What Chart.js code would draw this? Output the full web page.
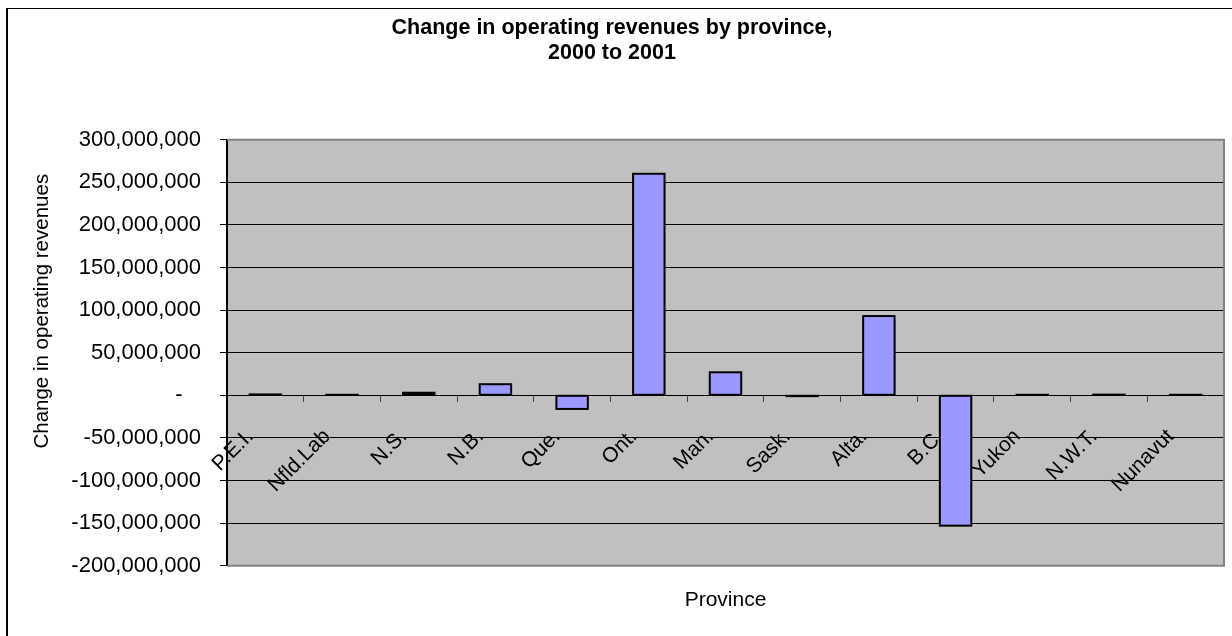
<!DOCTYPE html>
<html>
<head>
<meta charset="utf-8">
<title>Change in operating revenues by province, 2000 to 2001</title>
<script src="https://cdn.jsdelivr.net/npm/chart.js@4"></script>
<style>
  html, body { margin: 0; padding: 0; background: #fff; overflow: hidden; }
  #wrap { position: relative; width: 1232px; height: 636px; overflow: hidden; }
  #frame { position: absolute; left: 6px; top: 8px; width: 1240px; height: 640px;
           border-left: 2px solid #000; border-top: 1px solid #000; }
  canvas { position: absolute; left: 0; top: 0; }
</style>
</head>
<body>
<div id="wrap">
  <div id="frame"></div>
  <canvas id="chart" width="1232" height="636"></canvas>
</div>
<script>
/* ─── Data ────────────────────────────────────────────── */
const provinces = ['P.E.I.', 'Nfld.Lab', 'N.S.', 'N.B.', 'Que.', 'Ont.', 'Man.',
                   'Sask.', 'Alta.', 'B.C.', 'Yukon', 'N.W.T.', 'Nunavut'];
const revenueChange = [1000000, 500000, 3000000, 13000000, -16000000, 260000000, 27000000,
                       -1000000, 93000000, -153000000, 500000, 800000, 500000];
const yMin = -200000000;
const yMax = 300000000;
const yStep = 50000000;

const FONT = "'Liberation Sans', Arial, sans-serif";
const PLOT_BG = '#C0C0C0';
const BAR_FILL = '#9999FF';

/* ─── Plot area: grey fill + frame ────────────────────── */
const plotArea = {
  id: 'plotArea',
  beforeDraw(chart) {
    const { ctx, chartArea: a } = chart;
    ctx.save();
    ctx.fillStyle = PLOT_BG;
    ctx.fillRect(a.left, a.top, a.right - a.left, a.bottom - a.top);
    ctx.restore();
  },
  beforeDatasetsDraw(chart) {
    const { ctx, chartArea: a } = chart;
    ctx.save();
    ctx.strokeStyle = '#808080';
    ctx.lineWidth = 2;
    ctx.beginPath();
    ctx.moveTo(a.left, a.top);
    ctx.lineTo(a.right, a.top);
    ctx.lineTo(a.right, a.bottom);
    ctx.lineTo(a.left, a.bottom);
    ctx.stroke();
    ctx.restore();
  }
};

/* ─── Bar outlines (centred on the bar edge, like Excel) ── */
const barOutline = {
  id: 'barOutline',
  afterDatasetsDraw(chart) {
    const ctx = chart.ctx;
    ctx.save();
    ctx.strokeStyle = '#000';
    ctx.lineWidth = 2;
    chart.getDatasetMeta(0).data.forEach(bar => {
      const { x, y, base, width } = bar.getProps(['x', 'y', 'base', 'width'], true);
      ctx.strokeRect(x - width / 2, Math.min(y, base), width, Math.abs(base - y));
    });
    ctx.restore();
  }
};

/* ─── Chart ───────────────────────────────────────────── */
new Chart(document.getElementById('chart'), {
  type: 'bar',
  data: {
    labels: provinces,
    datasets: [{
      data: revenueChange,
      backgroundColor: BAR_FILL,
      borderWidth: 0,
      barPercentage: 0.41,
      categoryPercentage: 1,
      xAxisID: 'x',
      yAxisID: 'y'
    }]
  },
  options: {
    responsive: false,
    animation: false,
    layout: { padding: { left: 0, right: 8, top: 0, bottom: 0 } },
    plugins: {
      legend: { display: false },
      tooltip: { enabled: false },
      title: {
        display: true,
        text: ['Change in operating revenues by province,', '2000 to 2001'],
        color: '#000',
        font: { family: FONT, size: 21.5, weight: 'bold', lineHeight: 25 / 21.5 },
        padding: { top: 15.5, bottom: 74.2 }
      }
    },
    scales: {
      x: {
        type: 'category',
        position: { y: 0 },
        z: 1,
        offset: true,
        grid: { display: true, offset: true, drawOnChartArea: false, drawTicks: true,
                tickLength: 6, color: '#404040', lineWidth: 1 },
        border: { display: true, color: '#000', width: 1 },
        ticks: { color: '#000', font: { family: FONT, size: 21 }, autoSkip: false,
                 minRotation: 45, maxRotation: 45, padding: 23, labelOffset: -15 },
        afterFit: s => { s.paddingLeft = 0; s.paddingRight = 0; }
      },
      xTitle: {
        type: 'category',
        position: 'bottom',
        display: true,
        grid: { display: false },
        border: { display: false },
        ticks: { display: false },
        title: { display: true, text: 'Province', color: '#000',
                 font: { family: FONT, size: 21 }, padding: { top: 0, bottom: 23 } },
        afterFit: s => { s.height = 70.3; }
      },
      y: {
        type: 'linear',
        position: 'left',
        min: yMin,
        max: yMax,
        grid: { color: '#000', lineWidth: 1, drawTicks: true, tickLength: 7 },
        border: { display: true, color: '#000', width: 2 },
        ticks: {
          stepSize: yStep,
          padding: 19,
          color: '#000',
          font: { family: FONT, size: 22 },
          callback: v => v === 0 ? '-\u2007 ' : v.toLocaleString('en-US')
        },
        // title sits toward the top of the axis; trailing spaces keep it off the top edge
        title: { display: true, align: 'end', text: 'Change in operating revenues      ',
                 color: '#000', font: { family: FONT, size: 20.5 },
                 padding: { top: 30, bottom: 0 } },
        afterFit: s => { s.width = 227; }
      }
    }
  },
  plugins: [plotArea, barOutline]
});
</script>
</body>
</html>
